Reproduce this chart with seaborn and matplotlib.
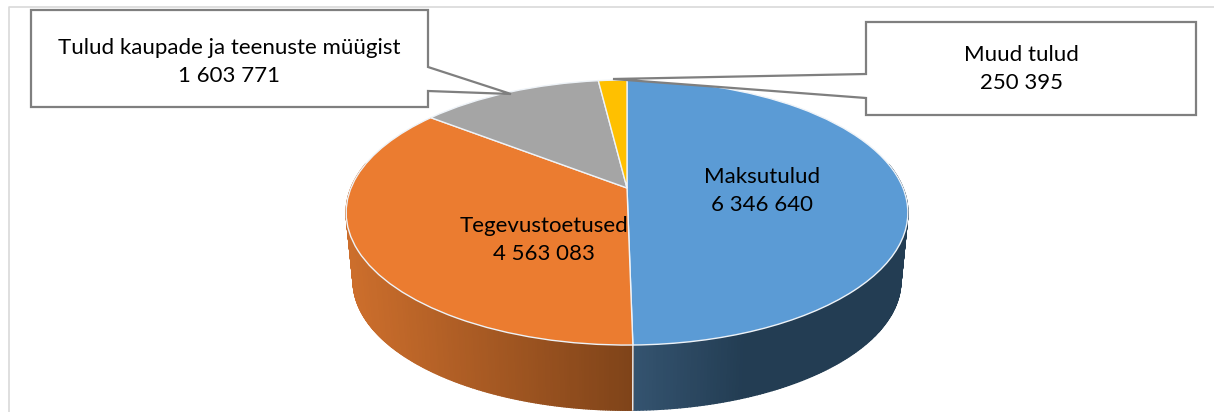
#!/usr/bin/env python3
"""3D-looking revenue pie with callout labels"""

import numpy as np
import matplotlib
matplotlib.use("Agg")
import matplotlib.pyplot as plt
from matplotlib.collections import PolyCollection
from matplotlib.patches import Polygon
from matplotlib.transforms import Transform
import seaborn as sns

categories = ["Maksutulud", "Tegevustoetused", "Tulud kaupade ja teenuste müügist", "Muud tulud"]
values = [6346640, 4563083, 1603771, 250395]
colors = ["#5B9BD5", "#EB7C30", "#A5A5A5", "#FFC000"]

sns.set_theme(style="white")
plt.rcParams["font.family"] = ["Lato", "DejaVu Sans"]

# perspective of the pie top, in pixels
CX, CY = 627, 188
SX, SY, TILT = 276, 128, 0.185
# side wall: lower rim is the top rim shrunk a bit and moved down
RIM_Y, LOW_Y, LOW_SCALE = 212.5, 281, 0.975


class PieView(Transform):
    input_dims = 2
    output_dims = 2

    def transform_non_affine(self, values):
        xy = np.asarray(values, dtype=float)
        w = 1 + TILT * xy[:, 1]
        return np.column_stack((CX + SX * xy[:, 0] / w, CY - SY * xy[:, 1] / w))


def lower_rim(pts):
    return np.column_stack((CX + LOW_SCALE * (pts[:, 0] - CX),
                            LOW_Y + LOW_SCALE * (pts[:, 1] - RIM_Y)))


def draw_wall(ax, view, wedge, palette, shade):
    """Strips between upper and lower rim, colour depends on x"""
    t = np.radians(np.linspace(wedge.theta1, wedge.theta2, 300))
    t = t[np.sin(t) < 0.2]
    top = view.transform_non_affine(np.column_stack((np.cos(t), np.sin(t))))
    low = lower_rim(top)
    polys, cols = [], []
    for i in range(len(t) - 1):
        polys.append([top[i], top[i + 1], low[i + 1], low[i]])
        cols.append(palette[shade(top[i, 0])])
    ax.add_collection(PolyCollection(polys, facecolors=cols, edgecolors=cols,
                                     linewidths=1.0, zorder=2), autolim=False)


def callout(ax, pts):
    ax.add_patch(Polygon(pts, closed=True, facecolor="white", edgecolor="#7F7F7F",
                         linewidth=1.6, joinstyle="miter", zorder=4))


def label(name, val):
    return name + "\n" + f"{val:,}".replace(",", " ")


fig, ax = plt.subplots(figsize=(12.14, 4.12), dpi=100)
fig.subplots_adjust(left=0, right=1, top=1, bottom=0)

wedges, _ = ax.pie(values, colors=colors, startangle=90, counterclock=False,
                   wedgeprops={"edgecolor": "#EEF3F8", "linewidth": 1.0, "zorder": 3})
ax.set_aspect("auto")
ax.set_xlim(0, 1214)
ax.set_ylim(412, 0)

view = PieView()
for w in wedges:
    w.set_transform(view + ax.transData)

blues = sns.blend_palette(["#34536F", "#233D53"], 100)
oranges = sns.blend_palette(["#CC6E2C", "#7E4319"], 100)
draw_wall(ax, view, wedges[0], blues,
          lambda x: int(np.clip((x - 634) / 110, 0, 1) * 99))
draw_wall(ax, view, wedges[1], oranges,
          lambda x: int(np.clip((x - 350) / 282, 0, 1) * 99))

# white seam between the two wall parts
seam_t = np.radians(wedges[0].theta1)
seam_top = view.transform_non_affine(np.array([[np.cos(seam_t), np.sin(seam_t)]]))
seam_low = lower_rim(seam_top)
ax.plot([seam_top[0, 0], seam_low[0, 0]], [seam_top[0, 1], seam_low[0, 1]],
        color="#EEF3F8", lw=1.0, zorder=2.5)

# chart frame
ax.plot([8.5, 8.5, 1214], [412, 6.5, 6.5], color="#D9D9D9", lw=1.2, zorder=1)

callout(ax, [(31, 10), (428, 10), (428, 67), (511, 94), (428, 91), (428, 107), (31, 107)])
callout(ax, [(866, 22), (1196, 22), (1196, 115), (866, 115), (866, 98), (613, 79), (866, 74)])

text_kw = dict(ha="center", va="center", color="black", fontsize=16,
               linespacing=1.5, zorder=5)
ax.text(229, 62, label(categories[2], values[2]), **text_kw)
ax.text(1021, 69, label(categories[3], values[3]), **text_kw)
ax.text(762, 191, label(categories[0], values[0]), **text_kw)
ax.text(544, 240, label(categories[1], values[1]), **text_kw)

plt.savefig("out.png", dpi=100)
plt.close()
